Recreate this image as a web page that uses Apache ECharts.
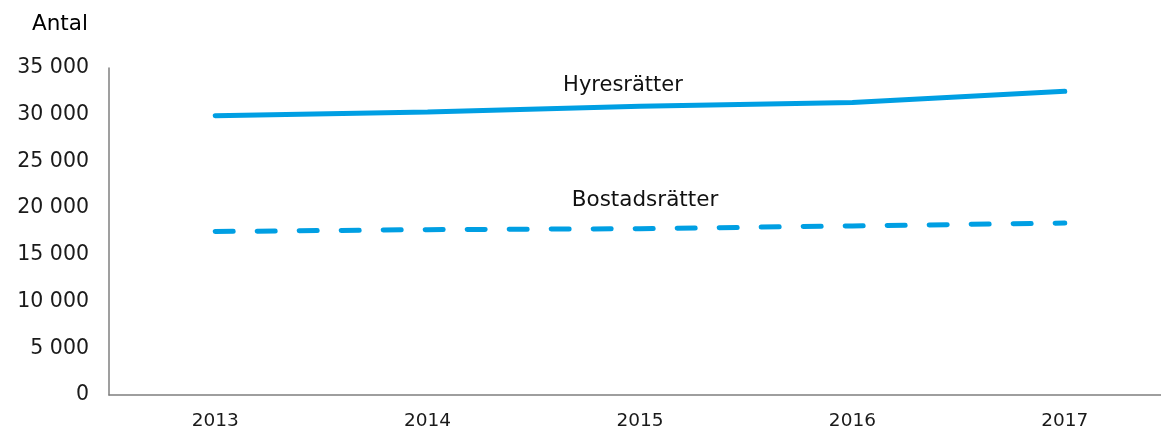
<!DOCTYPE html>
<html>
<head>
<meta charset="utf-8">
<script src="https://cdn.jsdelivr.net/npm/echarts@6/dist/echarts.min.js"></script>
<style>
  html, body { margin: 0; padding: 0; background: #fff; }
  #chart { width: 1161px; height: 432px; }
</style>
</head>
<body>
<div id="chart"></div>
<script>
// data
const years = ['2013', '2014', '2015', '2016', '2017']
const hyresratter = [29900, 30300, 30900, 31300, 32500]
const bostadsratter = [17500, 17700, 17800, 18100, 18400]
const yTicks = [0, 5000, 10000, 15000, 20000, 25000, 30000, 35000]

const blue = '#009fe3'
const font = '"DejaVu Sans", Verdana, sans-serif'

const fmt = v => String(v).replace(/\B(?=(\d{3})+(?!\d))/g, ' ')

const draw = (dom, option) => {
    const chart = echarts.init(dom)
    chart.clear()
    chart.setOption(option)
    return chart
}

draw(document.getElementById('chart'), {
    animation: false,
    grid: { left: 109, top: 68, bottom: 37, right: -10, outerBoundsMode: 'none', containLabel: false },
    title: {
        text: 'Antal',
        left: 27, top: 8,
        textStyle: { fontFamily: font, fontSize: 21.5, fontWeight: 'normal', color: '#000' }
    },
    xAxis: {
        type: 'category',
        data: years,
        boundaryGap: true,
        axisLine: { lineStyle: { color: '#7f7f7f', width: 1.5 } },
        axisTick: { show: false },
        axisLabel: { margin: 17, fontFamily: font, fontSize: 18.5, color: '#1a1a1a' }
    },
    yAxis: {
        type: 'value',
        min: yTicks[0],
        max: yTicks[yTicks.length - 1],
        interval: 5000,
        axisLine: { show: true, lineStyle: { color: '#7f7f7f', width: 1.5 } },
        axisTick: { show: false },
        splitLine: { show: false },
        axisLabel: { margin: 20, fontFamily: font, fontSize: 20.5, color: '#1a1a1a', formatter: fmt }
    },
    series: [
        {
            name: 'Hyresrätter',
            type: 'line',
            data: hyresratter,
            symbol: 'none',
            lineStyle: { color: blue, width: 5, cap: 'round' },
            markPoint: {
                symbol: 'circle', symbolSize: 0,
                data: [{ coord: ['2015', hyresratter[2]] }],
                label: {
                    show: true, formatter: 'Hyresrätter', offset: [-17, -21],
                    fontFamily: font, fontSize: 21, color: '#111'
                }
            }
        },
        {
            name: 'Bostadsrätter',
            type: 'line',
            data: bostadsratter,
            symbol: 'none',
            lineStyle: { color: blue, width: 5, type: [18, 24], cap: 'round' },
            markPoint: {
                symbol: 'circle', symbolSize: 0,
                data: [{ coord: ['2015', bostadsratter[2]] }],
                label: {
                    show: true, formatter: 'Bostadsrätter', offset: [5, -28],
                    fontFamily: font, fontSize: 21.5, color: '#111'
                }
            }
        }
    ]
})
</script>
</body>
</html>
